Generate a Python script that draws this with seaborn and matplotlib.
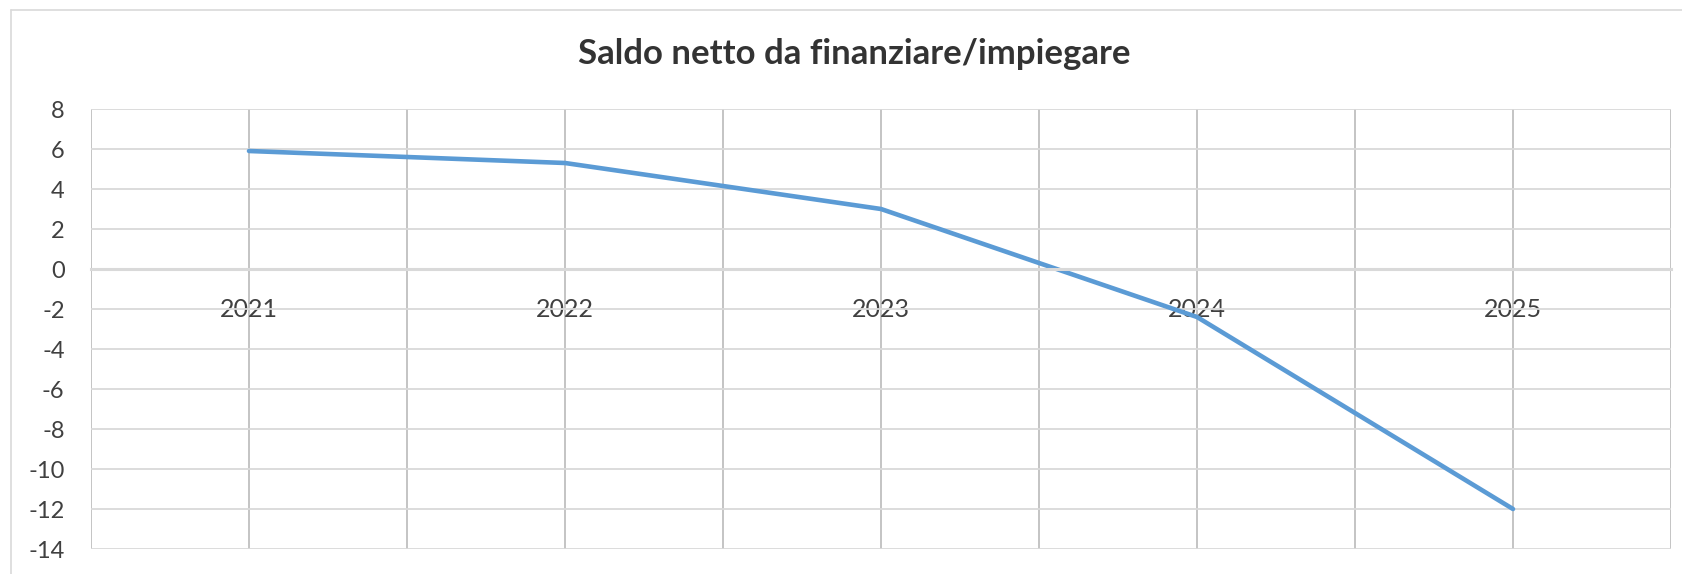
import matplotlib
matplotlib.use('Agg')
import matplotlib.pyplot as plt
import seaborn as sns
from matplotlib.lines import Line2D
from matplotlib.ticker import FixedLocator

# data
years = ['2021', '2022', '2023', '2024', '2025']
saldo = [5.9, 5.3, 3.0, -2.4, -12.0]
y_ticks = [8, 6, 4, 2, 0, -2, -4, -6, -8, -10, -12, -14]
y_labels = ['8', '6', '4', '2', '0', '-2', '-4', '-6', '-8', '-10', '-12', '-14']
title = 'Saldo netto da finanziare/impiegare'

sns.set_style('white')
plt.rcParams['font.family'] = ['Lato', 'DejaVu Sans']

fig = plt.figure(figsize=(16.82, 5.74), dpi=100)
ax = fig.add_axes([91 / 1682, 1 - 549 / 574, (1671 - 91) / 1682, (549 - 109) / 574])

sns.lineplot(x=years, y=saldo, color='#5B9BD5', linewidth=3.3, sort=False, ax=ax)

ax.set_xlim(-0.5, len(years) - 0.5)
ax.set_ylim(-14, 8)
ax.set_yticks(y_ticks)
ax.set_yticklabels(y_labels)

# vertical grid at categories and between them
ax.xaxis.set_minor_locator(FixedLocator([i - 0.5 for i in range(len(years) + 1)]))
ax.grid(axis='x', which='both', color='#bfbfbf', linewidth=1.3)
ax.grid(axis='y', which='major', color='#d9d9d9', linewidth=1.3)
ax.set_axisbelow(True)

for s in ['top', 'right', 'left']:
    ax.spines[s].set_visible(False)
ax.spines['bottom'].set_position(('data', 0))
ax.spines['bottom'].set_color('#d9d9d9')
ax.spines['bottom'].set_linewidth(2.2)

ax.tick_params(axis='x', which='both', length=0, pad=21, labelsize=18, labelcolor='#404040')
ax.tick_params(axis='y', length=0, pad=19, labelsize=17, labelcolor='#404040')
ax.set_xlabel('')
ax.set_ylabel('')

fig.text(0.508, 1 - 54 / 574, title, ha='center', va='center',
         fontsize=25, fontweight='bold', color='#333333')

# outer chart border (left and top visible)
fig.add_artist(Line2D([11 / 1682, 11 / 1682], [0, 1 - 10 / 574], color='#d9d9d9', linewidth=1.2))
fig.add_artist(Line2D([11 / 1682, 1], [1 - 10 / 574, 1 - 10 / 574], color='#d9d9d9', linewidth=1.2))

fig.savefig('out.png', dpi=100)
